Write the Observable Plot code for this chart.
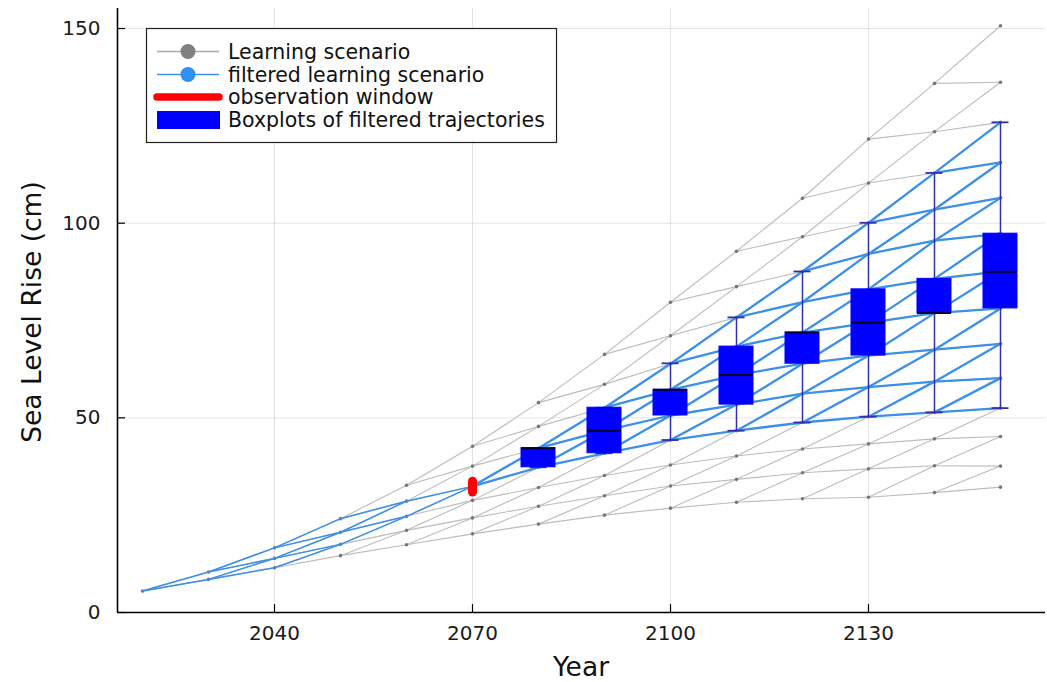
<!DOCTYPE html>
<html><head><meta charset="utf-8">
<script src="https://cdn.jsdelivr.net/npm/d3@7"></script>
<script src="https://cdn.jsdelivr.net/npm/@observablehq/plot@0.6"></script>
<style>body{margin:0;background:#fff;}</style>
</head><body><div id="chart"></div>
<script>
// ---- data ----
const years = [2020, 2030, 2040, 2050, 2060, 2070, 2080, 2090, 2100, 2110, 2120, 2130, 2140, 2150];
// lattice node values at each decade, from lowest to highest (cm)
const n2020 = [5.5];
const n2030 = [8.5, 10.4];
const n2040 = [11.5, 13.9, 16.6];
const n2050 = [14.6, 17.5, 20.6, 24.1];
const n2060 = [17.4, 21.1, 24.7, 28.6, 32.7];
const n2070 = [20.2, 24.3, 28.8, 32.4, 37.6, 42.7];
const n2080 = [22.7, 27.3, 32.1, 37.3, 42.2, 47.8, 53.9];
const n2090 = [25.0, 30.0, 35.2, 40.9, 46.7, 52.6, 58.6, 66.3];
const n2100 = [26.8, 32.5, 37.9, 44.3, 50.6, 57.2, 63.9, 71.1, 79.7];
const n2110 = [28.3, 34.2, 40.2, 46.7, 53.4, 61.0, 68.3, 75.8, 83.7, 92.8];
const n2120 = [29.2, 35.9, 42.0, 48.8, 56.2, 63.9, 71.9, 79.7, 87.6, 96.5, 106.4];
const n2130 = [29.6, 36.9, 43.3, 50.3, 57.9, 66.0, 74.4, 83.0, 92.1, 100.1, 110.3, 121.6];
const n2140 = [30.8, 37.7, 44.6, 51.4, 59.3, 67.5, 76.9, 85.7, 95.5, 103.5, 112.9, 123.5, 135.9];
const n2150 = [32.2, 37.6, 45.2, 52.5, 60.2, 69.0, 78.1, 87.6, 97.3, 106.5, 115.6, 125.9, 136.2, 150.7];
const levels = [n2020, n2030, n2040, n2050, n2060, n2070, n2080, n2090, n2100, n2110, n2120, n2130, n2140, n2150];

// observation
const obsYear = 2070;
const obsNode = 3;            // index of the observed node at 2070
const obsWindow = [30.8, 33.6];

// boxplots of filtered trajectories
const boxYears   = [2080, 2090, 2100, 2110, 2120, 2130, 2140, 2150];
const whiskerLow = [37.3, 40.9, 44.3, 46.7, 48.8, 50.3, 51.4, 52.5];
const q1         = [37.3, 40.9, 50.6, 53.4, 63.9, 66.0, 76.9, 78.1];
const median     = [42.2, 46.7, 57.2, 61.0, 71.9, 74.4, 76.9, 87.5];
const q3         = [42.2, 52.6, 57.2, 68.3, 71.9, 83.0, 85.7, 97.3];
const whiskerHigh= [42.2, 52.6, 64.0, 75.8, 87.6, 100.1, 112.9, 125.9];

const xTicks = [2040, 2070, 2100, 2130];
const yTicks = [0, 50, 100, 150];

const legendLabels = ["Learning scenario", "filtered learning scenario", "observation window", "Boxplots of filtered trajectories"];

// ---- build tables ----
const obsK = years.indexOf(obsYear);
function filtered(k, j) {
  if (k <= obsK) return j <= obsNode && j >= obsNode - (obsK - k);
  return j >= obsNode && j <= obsNode + (k - obsK);
}
const nodes = [];
levels.forEach((lv, k) => lv.forEach((v, j) => nodes.push({year: years[k], value: v, k, j})));
const edges = [];
for (let k = 0; k < levels.length - 1; k++) {
  levels[k].forEach((v, j) => {
    for (const jj of [j, j + 1]) {
      edges.push({
        x1: years[k], y1: v, x2: years[k + 1], y2: levels[k + 1][jj],
        blue: filtered(k, j) && filtered(k + 1, jj), pre: k < obsK
      });
    }
  });
}
const boxes = boxYears.map((y, i) => ({year: y, lo: whiskerLow[i], q1: q1[i], med: median[i], q3: q3[i], hi: whiskerHigh[i]}));

// ---- layout ----
const W = 1047, H = 682;
const mL = 117, mR = 2, mT = 8, mB = 70;
const xDomain = [2016.21, 2156.82];
const yDomain = [0, 155.14];
const pxX = (W - mL - mR) / (xDomain[1] - xDomain[0]);
const pxY = (H - mT - mB) / (yDomain[1] - yDomain[0]);
const boxHalf = 17 / pxX, capHalf = 8.5 / pxX, tickLen = 8;

const lineBlue = "#3c90e8";
const plot = Plot.plot({
  width: W, height: H,
  marginLeft: mL, marginRight: mR, marginTop: mT, marginBottom: mB,
  x: {domain: xDomain},
  y: {domain: yDomain},
  style: {fontFamily: "DejaVu Sans", fontSize: "20px", color: "#1a1a1a", background: "white"},
  marks: [
    Plot.gridX(xTicks, {stroke: "#000", strokeOpacity: 0.1, strokeWidth: 1}),
    Plot.gridY(yTicks, {stroke: "#000", strokeOpacity: 0.1, strokeWidth: 1}),
    Plot.link(edges, {x1: "x1", y1: "y1", x2: "x2", y2: "y2", stroke: "#bcbcbc", strokeWidth: 1.1}),
    Plot.dot(nodes, {x: "year", y: "value", r: 1.8, fill: "#777", stroke: null}),
    Plot.link(edges.filter(e => e.blue && e.pre), {x1: "x1", y1: "y1", x2: "x2", y2: "y2", stroke: lineBlue, strokeWidth: 1.5}),
    Plot.link(edges.filter(e => e.blue && !e.pre), {x1: "x1", y1: "y1", x2: "x2", y2: "y2", stroke: lineBlue, strokeWidth: 2.3}),
    Plot.ruleX([obsYear], {x: d => d, y1: obsWindow[0], y2: obsWindow[1], stroke: "#ff0000", strokeWidth: 9, strokeLinecap: "round"}),
    Plot.ruleX(boxes, {x: "year", y1: "lo", y2: "q1", stroke: "#2f2fb0", strokeWidth: 1.5}),
    Plot.ruleX(boxes, {x: "year", y1: "q3", y2: "hi", stroke: "#2f2fb0", strokeWidth: 1.5}),
    Plot.ruleY(boxes, {y: "lo", x1: d => d.year - capHalf, x2: d => d.year + capHalf, stroke: "#2f2fb0", strokeWidth: 1.8}),
    Plot.ruleY(boxes, {y: "hi", x1: d => d.year - capHalf, x2: d => d.year + capHalf, stroke: "#2f2fb0", strokeWidth: 1.8}),
    Plot.rect(boxes, {x1: d => d.year - boxHalf, x2: d => d.year + boxHalf, y1: "q1", y2: "q3", fill: "#0000ff", stroke: "#0000ff", strokeWidth: 1}),
    Plot.ruleY(boxes, {y: "med", x1: d => d.year - boxHalf, x2: d => d.year + boxHalf, stroke: "#00002a", strokeWidth: 2}),
    // axes
    Plot.axisY(yTicks, {tickSize: 0, tickPadding: 17, fontSize: 20, label: null}),
    Plot.axisX(xTicks, {tickSize: 0, tickPadding: 13, fontSize: 20, label: null, tickFormat: d => String(d)}),
    Plot.ruleX(xTicks, {x: d => d, y1: yDomain[0], y2: yDomain[0] + tickLen / pxY, stroke: "#000", strokeWidth: 1.2}),
    Plot.ruleY(yTicks, {y: d => d, x1: xDomain[0], x2: xDomain[0] + tickLen / pxX, stroke: "#000", strokeWidth: 1.2}),
    Plot.ruleX([xDomain[0]], {stroke: "#000", strokeWidth: 1.6}),
    Plot.ruleY([yDomain[0]], {stroke: "#000", strokeWidth: 1.6})
  ]
});

// axis titles and legend
const svg = d3.select(plot);
svg.append("text").attr("x", 581).attr("y", 676).attr("text-anchor", "middle")
  .attr("font-family", "DejaVu Sans").attr("font-size", 26.5).attr("fill", "#111").text("Year");
svg.append("text").attr("transform", "translate(41,312) rotate(-90)").attr("text-anchor", "middle")
  .attr("font-family", "DejaVu Sans").attr("font-size", 26.5).attr("fill", "#111").text("Sea Level Rise (cm)");

const lg = svg.append("g").attr("font-family", "DejaVu Sans").attr("font-size", 20.5).attr("fill", "#111").attr("text-anchor", "start");
lg.append("rect").attr("x", 146.5).attr("y", 28.5).attr("width", 410).attr("height", 114)
  .attr("fill", "white").attr("stroke", "#222").attr("stroke-width", 1.2);
const rowY = [51.5, 74.5, 97, 120];
const sx1 = 157, sx2 = 219, scx = 188;
lg.append("line").attr("x1", sx1).attr("x2", sx2).attr("y1", rowY[0]).attr("y2", rowY[0]).attr("stroke", "#aaa").attr("stroke-width", 1.5);
lg.append("circle").attr("cx", scx).attr("cy", rowY[0]).attr("r", 7.5).attr("fill", "#808080");
lg.append("line").attr("x1", sx1).attr("x2", sx2).attr("y1", rowY[1]).attr("y2", rowY[1]).attr("stroke", lineBlue).attr("stroke-width", 1.5);
lg.append("circle").attr("cx", scx).attr("cy", rowY[1]).attr("r", 7.5).attr("fill", "#2f90f2");
lg.append("line").attr("x1", sx1).attr("x2", sx2).attr("y1", rowY[2]).attr("y2", rowY[2]).attr("stroke", "#ff0000").attr("stroke-width", 7.5).attr("stroke-linecap", "round");
lg.append("rect").attr("x", 157).attr("y", rowY[3] - 9).attr("width", 63).attr("height", 18).attr("fill", "#0000ff");
legendLabels.forEach((t, i) => lg.append("text").attr("x", 228).attr("y", rowY[i]).attr("dy", "0.35em").attr("text-anchor", "start").text(t));

document.getElementById("chart").appendChild(plot);
</script>
</body></html>
